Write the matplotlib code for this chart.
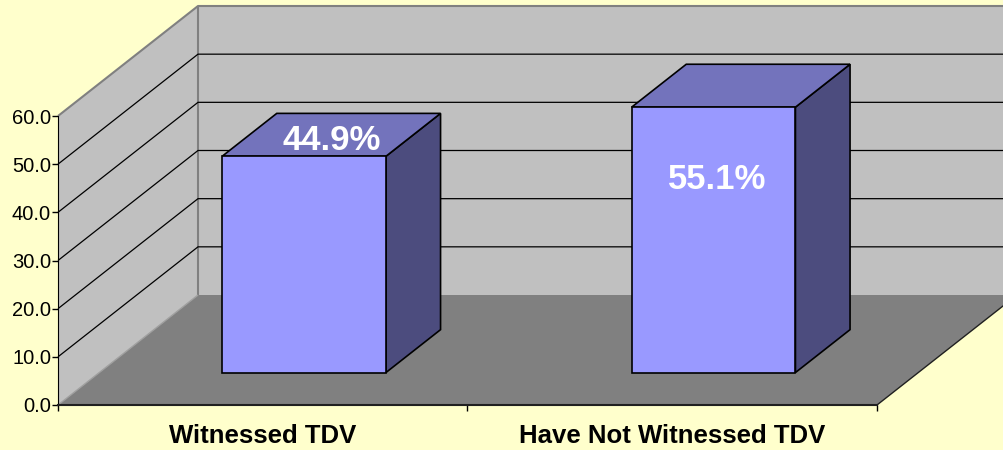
import numpy as np
import matplotlib
matplotlib.use('Agg')
import matplotlib.pyplot as plt
from matplotlib.patches import Polygon

plt.rcParams['font.family'] = ['Liberation Sans', 'DejaVu Sans']

# data
categories = ['Witnessed TDV', 'Have Not Witnessed TDV']
values = [44.9, 55.1]
labels = ['44.9%', '55.1%']
yticks = [0, 10, 20, 30, 40, 50, 60]

W, H = 1004, 450
fig = plt.figure(figsize=(W / 100, H / 100), dpi=100)
fig.patch.set_facecolor('#FFFFCC')

# front plane of the 3d box
left, bottom, right, top = 58, 45, 877, 334
ax = fig.add_axes([left / W, bottom / H, (right - left) / W, (top - bottom) / H])
ax.set_xlim(0, len(categories))
ax.set_ylim(0, 60)
ax.patch.set_visible(False)

# oblique depth offset (140 px right, 110 px up for full depth), in data units
px_per_x = (right - left) / len(categories)
px_per_y = (top - bottom) / 60.0
DX = 140 / px_per_x
DY = 110 / px_per_y


def proj(x, z, d):
    return (x + d * DX, z + d * DY)


def face(pts, fc, ec='none', lw=0, zo=1):
    p = Polygon([proj(*q) for q in pts], closed=True, facecolor=fc,
                edgecolor=ec, linewidth=lw, zorder=zo, clip_on=False,
                joinstyle='miter')
    ax.add_patch(p)


n = len(categories)
zmax = 60

# walls and floor
face([(0, 0, 1), (n, 0, 1), (n, zmax, 1), (0, zmax, 1)], '#C0C0C0', zo=1)
face([(0, 0, 0), (0, zmax, 0), (0, zmax, 1), (0, 0, 1)], '#C0C0C0', zo=1)
face([(0, 0, 0), (n, 0, 0), (n, 0, 1), (0, 0, 1)], '#808080', zo=2)

# wall edges
def line(pts, color, lw, zo):
    xs, ys = zip(*[proj(*q) for q in pts])
    ax.plot(xs, ys, color=color, lw=lw, zorder=zo, clip_on=False,
            solid_capstyle='butt')

line([(0, zmax, 0), (0, zmax, 1), (n, zmax, 1)], '#808080', 1.5, 3)
line([(0, 0, 1), (0, zmax, 1)], '#808080', 1.5, 3)
line([(0, 0, 0), (0, 0, 1)], '#A0A0A0', 1.0, 3)
line([(n, 0, 0), (n, 0, 1)], '#202020', 1.0, 3)

# gridlines
for v in yticks[1:-1]:
    line([(0, v, 0), (0, v, 1), (n, v, 1)], 'black', 0.9, 3)

# axes lines
ax.spines[['top', 'right']].set_visible(False)
ax.spines['left'].set_color('black')
ax.spines['bottom'].set_color('#202020')
ax.spines['bottom'].set_linewidth(1.5)
ax.spines['left'].set_zorder(4)
ax.spines['bottom'].set_zorder(4)

ax.set_yticks(yticks)
ax.set_yticklabels(['%.1f' % v for v in yticks], fontsize=14.5)
ax.tick_params(axis='y', length=4, width=1, pad=1)
ax.set_xticks(np.arange(n + 1))
ax.set_xticklabels([])
ax.tick_params(axis='x', which='major', length=4, width=1)
ax.set_xticks(np.arange(n) + 0.5, minor=True)
ax.set_xticklabels(categories, minor=True, fontsize=18.5, fontweight='bold')
ax.tick_params(axis='x', which='minor', length=0, pad=14)

# bars
bw = 0.4
d0, d1 = 0.295, 0.685
for i, v in enumerate(values):
    x0 = i + 0.5 - bw / 2
    x1 = i + 0.5 + bw / 2
    face([(x1, 0, d0), (x1, v, d0), (x1, v, d1), (x1, 0, d1)], '#4C4C7E',
         'black', 1.2, 5)
    face([(x0, v, d0), (x1, v, d0), (x1, v, d1), (x0, v, d1)], '#7373BC',
         'black', 1.2, 5)
    face([(x0, 0, d0), (x1, 0, d0), (x1, v, d0), (x0, v, d0)], '#9999FF',
         'black', 1.2, 6)

# value labels: first sits on the top face, second inside the front face
lx, ly = proj(0.5, values[0] - 1.1, (d0 + d1) / 2)
ax.text(lx, ly, labels[0], color='white', fontsize=25, fontweight='bold',
        ha='center', va='center', zorder=7)
lx, ly = proj(1.508, values[1] - 15.1, d0)
ax.text(lx, ly, labels[1], color='white', fontsize=25, fontweight='bold',
        ha='center', va='center', zorder=7)

fig.savefig('out.png', dpi=100, facecolor=fig.get_facecolor())
